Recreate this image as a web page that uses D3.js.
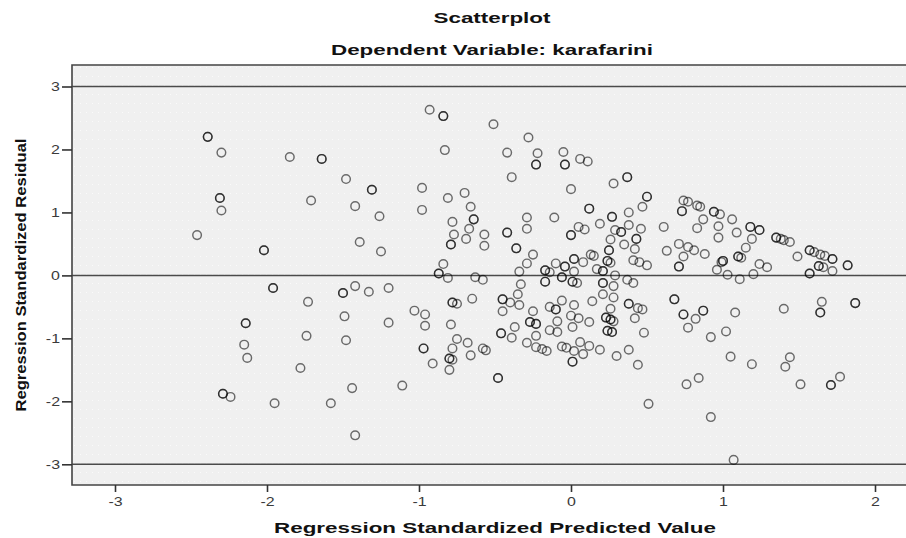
<!DOCTYPE html>
<html><head><meta charset="utf-8">
<script src="https://cdn.jsdelivr.net/npm/d3@7"></script>
<style>
body{margin:0;background:#fff}
svg{display:block}
text{font-family:"Liberation Sans",Arial,Helvetica,sans-serif}
</style>
</head><body>
<svg id="chart" width="906" height="538"></svg>
<script>
const title = "Scatterplot";
const subtitle = "Dependent Variable: karafarini";
const xLabel = "Regression Standardized Predicted Value";
const yLabel = "Regression Standardized Residual";
const xTicks = [-3, -2, -1, 0, 1, 2];
const yTicks = [-3, -2, -1, 0, 1, 2, 3];
const refLines = [3, 0, -3];

// Regression standardized predicted value (x) for each plotted position
const predicted = [
 -2.39,-2.30,-1.85,-1.64,-1.48,-1.31,-2.31,-2.30,-1.71,-1.42,-1.26,-2.46,-2.02,-1.39,-1.25,
 -1.96,-1.50,-1.42,-1.33,-1.20,-1.73,-1.49,-1.20,-2.14,-1.74,-1.48,-2.15,-2.13,-1.78,-2.29,
 -2.24,-1.95,-1.58,-1.44,-1.11,-1.42,
 -0.93,-0.84,-0.51,-0.28,-0.83,-0.42,-0.22,-0.05,-0.23,-0.04,0.06,0.11,-0.39,0.37,
 0.28,0.00,-0.98,-0.98,-0.81,-0.70,-0.66,0.50,0.47,0.12,-0.64,-0.78,-0.67,-0.77,-0.69,
 -0.57,-0.79,-0.57,-0.42,-0.29,-0.29,-0.11,-0.36,-0.25,-0.29,-0.84,-0.87,-0.81,-0.63,-0.58,
 -0.34,-0.33,-0.17,-0.14,-0.17,-0.10,-0.04,-0.06,0.02,0.01,0.04,0.02,0.08,0.05,0.00,
 0.09,0.13,0.15,0.17,0.19,0.27,0.29,0.33,0.38,0.38,0.46,0.43,0.26,0.35,0.25,
 0.42,0.24,0.26,0.41,0.45,0.50,0.21,0.21,0.29,0.28,0.37,0.41,0.61,
 -1.03,-0.96,-0.96,-0.79,-0.78,-0.75,-0.65,-0.75,-0.68,-0.97,-0.78,-0.80,-0.78,-0.91,-0.80,
 -0.66,-0.58,-0.56,-0.48,-0.45,-0.40,-0.34,-0.35,-0.45,-0.46,-0.39,-0.37,-0.29,-0.25,-0.27,
 -0.23,-0.23,-0.23,-0.19,-0.16,-0.14,-0.10,-0.06,-0.09,-0.14,-0.09,-0.06,-0.03,0.02,0.00,
 0.05,0.01,0.12,0.06,0.12,0.02,0.08,0.01,0.14,0.21,0.28,0.26,0.23,0.26,0.28,
 0.24,0.27,0.19,0.30,0.38,0.44,0.47,0.42,0.48,0.38,0.44,0.51,
 0.74,0.77,0.83,0.85,0.73,0.94,0.98,0.87,1.06,0.83,0.97,1.09,0.97,1.18,1.24,
 1.19,1.15,1.35,1.38,1.40,1.44,0.71,0.77,0.81,0.88,0.63,0.74,0.71,1.00,0.99,
 1.10,1.12,0.96,1.03,1.11,1.20,1.24,1.29,1.49,1.57,1.60,1.64,1.67,1.72,1.63,
 1.66,1.72,1.57,1.82,0.68,0.74,0.87,1.08,1.40,1.65,1.64,1.87,0.82,
 0.77,0.92,1.02,1.05,1.19,1.44,1.41,0.84,0.76,1.51,1.77,1.71,0.92,1.07
];
// Regression standardized residual (y) for each plotted position
const residual = [
 2.20,1.95,1.88,1.85,1.53,1.36,1.23,1.03,1.19,1.10,0.94,0.64,0.40,0.53,0.38,
 -0.20,-0.28,-0.17,-0.26,-0.20,-0.42,-0.65,-0.75,-0.76,-0.96,-1.03,-1.10,-1.31,-1.47,-1.88,
 -1.93,-2.03,-2.03,-1.79,-1.75,-2.54,
 2.63,2.53,2.40,2.19,1.99,1.95,1.94,1.96,1.76,1.76,1.85,1.81,1.56,1.56,
 1.46,1.37,1.39,1.04,1.23,1.31,1.09,1.25,1.09,1.06,0.89,0.85,0.74,0.65,0.58,
 0.65,0.49,0.47,0.68,0.92,0.74,0.92,0.43,0.33,0.19,0.18,0.03,-0.04,-0.03,-0.07,
 0.06,-0.14,0.08,0.05,-0.10,0.19,0.14,-0.03,0.06,-0.10,-0.12,0.26,0.21,0.77,0.64,
 0.73,0.33,0.31,0.10,0.82,0.93,0.72,0.69,1.00,0.80,0.74,0.58,0.57,0.49,0.40,
 0.42,0.23,0.20,0.24,0.21,0.16,0.07,-0.12,0.00,-0.17,-0.07,-0.12,0.77,
 -0.56,-0.62,-0.80,-0.78,-0.43,-0.45,-0.37,-1.01,-1.07,-1.16,-1.16,-1.32,-1.34,-1.40,-1.50,
 -1.27,-1.16,-1.19,-1.63,-0.38,-0.43,-0.47,-0.30,-0.57,-0.92,-0.99,-0.82,-1.07,-0.57,-0.74,
 -0.77,-0.96,-1.14,-1.17,-1.20,-0.50,-0.54,-0.40,-0.73,-0.87,-0.90,-1.13,-1.15,-0.47,-0.64,
 -0.68,-0.82,-0.74,-1.06,-1.12,-1.20,-1.25,-1.37,-0.41,-0.30,-0.35,-0.53,-0.67,-0.70,-0.73,
 -0.88,-0.90,-1.18,-1.28,-0.45,-0.52,-0.54,-0.68,-0.91,-1.18,-1.42,-2.04,
 1.19,1.17,1.11,1.09,1.02,1.01,0.97,0.89,0.89,0.75,0.78,0.68,0.60,0.77,0.72,
 0.58,0.44,0.60,0.58,0.56,0.53,0.50,0.45,0.40,0.34,0.39,0.30,0.14,0.23,0.21,
 0.30,0.28,0.09,0.01,-0.06,0.02,0.18,0.13,0.30,0.40,0.37,0.33,0.31,0.26,0.15,
 0.13,0.07,0.03,0.16,-0.38,-0.62,-0.56,-0.59,-0.53,-0.42,-0.59,-0.44,-0.69,
 -0.83,-0.98,-0.89,-1.29,-1.41,-1.30,-1.45,-1.63,-1.73,-1.73,-1.61,-1.74,-2.25,-2.93
];
// number of cases drawn at each position (overlapping markers)
const cases = [
 2,1,1,2,1,2,2,1,1,1,1,1,2,1,1,
 2,2,1,1,1,1,1,1,2,1,1,1,1,1,2,
 1,1,1,1,1,1,
 1,2,1,1,1,1,1,1,2,2,1,1,1,2,
 1,1,1,1,1,1,1,2,1,2,2,1,1,1,1,
 1,2,1,2,1,1,1,2,1,1,1,2,1,1,1,
 1,1,2,1,2,1,2,2,1,2,1,2,1,1,2,
 1,1,1,1,1,2,1,2,1,1,1,2,1,1,2,
 1,2,1,1,1,1,2,2,1,1,1,1,1,
 1,1,1,1,2,1,1,1,1,2,1,2,1,1,1,
 1,1,1,2,2,1,1,1,1,2,1,1,1,1,2,
 2,1,1,1,1,1,2,1,1,1,1,1,1,1,1,
 1,1,1,1,1,1,1,2,1,1,1,1,2,2,1,
 2,2,1,1,2,1,1,1,1,1,1,1,
 1,1,1,1,2,2,1,1,1,1,1,1,1,2,2,
 1,1,2,1,1,1,1,1,1,1,1,1,2,2,1,
 2,1,1,1,1,1,1,1,1,2,1,1,1,2,2,
 1,1,2,2,2,2,2,1,1,1,2,2,1,
 1,1,1,1,1,1,1,1,1,1,1,2,1,1
];

const W = 906, H = 538;
const frame = {left: 72, right: 906, top: 65, bottom: 485};
const stretch = 1.33;

const svg = d3.select("#chart");

const x = d3.scaleLinear().domain([-3, 2]).range([115, 875]);
const y = d3.scaleLinear().domain([-3, 3]).range([464.3, 86.5]);

// background pattern (faint SPSS dot texture)
const defs = svg.append("defs");
const pat = defs.append("pattern").attr("id", "dots")
  .attr("width", 6).attr("height", 9).attr("patternUnits", "userSpaceOnUse");
pat.append("rect").attr("width", 6).attr("height", 9).attr("fill", "#f0f0f0");
pat.append("rect").attr("x", 2).attr("y", 4).attr("width", 1).attr("height", 1)
  .attr("fill", "#fafafa");

svg.append("rect")
  .attr("x", frame.left).attr("y", frame.top)
  .attr("width", frame.right - frame.left + 2).attr("height", frame.bottom - frame.top)
  .attr("fill", "url(#dots)");

// reference lines
svg.append("g").selectAll("line").data(refLines).join("line")
  .attr("x1", frame.left).attr("x2", frame.right)
  .attr("y1", d => y(d)).attr("y2", d => y(d))
  .attr("stroke", "#4a4a4a").attr("stroke-width", 1.5);

// points
const points = [];
predicted.forEach((p, i) => {
  for (let k = 0; k < cases[i]; k++) points.push({x: p, y: residual[i]});
});
svg.append("g").selectAll("circle").data(points).join("circle")
  .attr("cx", d => x(d.x)).attr("cy", d => y(d.y))
  .attr("r", 4.3)
  .attr("fill", "none")
  .attr("stroke", "#000")
  .attr("stroke-opacity", 0.56)
  .attr("stroke-width", 1.45);

// frame (left, top, bottom)
svg.append("path")
  .attr("d", `M${frame.right + 2},${frame.top}H${frame.left}V${frame.bottom}H${frame.right + 2}`)
  .attr("fill", "none").attr("stroke", "#444").attr("stroke-width", 1.6);

// axes
const xAxis = svg.append("g")
  .attr("transform", `translate(0,${frame.bottom})`)
  .call(d3.axisBottom(x).tickValues(xTicks).tickSize(7).tickPadding(5).tickFormat(d => String(d)));
const yAxis = svg.append("g")
  .attr("transform", `translate(${frame.left},0)`)
  .call(d3.axisLeft(y).tickValues(yTicks).tickSize(10).tickPadding(2).tickFormat(d => String(d)));

[xAxis, yAxis].forEach(g => {
  g.select(".domain").remove();
  g.selectAll(".tick line").attr("stroke", "#333").attr("stroke-width", 1.6);
  g.selectAll(".tick text").attr("fill", "#3a3a3a").attr("font-size", 12)
    .attr("font-family", "'Liberation Sans', Arial, sans-serif");
});
xAxis.selectAll(".tick text").attr("transform", `scale(${stretch},1)`);
yAxis.selectAll(".tick text").attr("x", -12 / stretch).attr("transform", `scale(${stretch},1)`);

// titles
function addText(str, cx, cy, size, len, rotate) {
  return svg.append("text")
    .attr("transform", rotate ? `translate(${cx},${cy}) rotate(-90)` : `translate(${cx},${cy})`)
    .attr("text-anchor", "middle")
    .attr("font-weight", "bold")
    .attr("font-size", size)
    .attr("fill", "#111")
    .attr("textLength", len)
    .attr("lengthAdjust", "spacingAndGlyphs")
    .text(str);
}
addText(title, 492, 23, 15.5, 117);
addText(subtitle, 492, 55, 15.5, 322);
addText(xLabel, 495, 533, 15.5, 442);
addText(yLabel, 26, 275, 15.5, 273, true);
</script>
</body></html>
